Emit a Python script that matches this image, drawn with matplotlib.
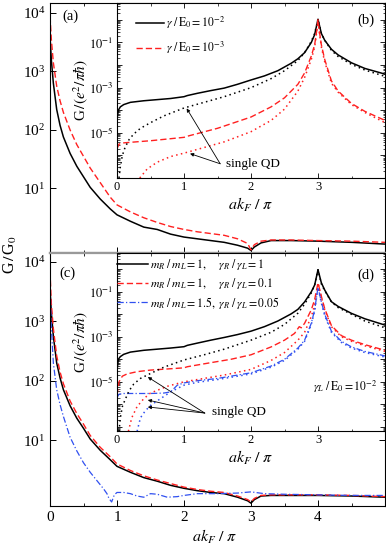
import numpy as np
import matplotlib
matplotlib.use("Agg")
import matplotlib.pyplot as plt
from matplotlib.ticker import FixedLocator, NullFormatter, LogLocator, MultipleLocator, LogFormatterSciNotation, NullLocator

plt.rcParams['font.family'] = ['Liberation Serif', 'DejaVu Serif']
plt.rcParams['mathtext.fontset'] = 'stix'

# ---------------- main panel (a) ----------------
a_x = [0, 0.02, 0.05, 0.1, 0.15, 0.2, 0.3, 0.4, 0.5, 0.6, 0.75, 0.9, 1.0, 1.2, 1.4, 1.6, 1.8, 2.0, 2.2, 2.4, 2.6, 2.8, 2.95, 3.0, 3.05, 3.15, 3.3, 3.6, 4.0, 4.5, 5.0]
a_black_log = [3.6, 3.2, 2.8, 2.35, 2.08, 1.88, 1.6, 1.38, 1.2, 1.02, 0.82, 0.65, 0.55, 0.44, 0.34, 0.3, 0.22, 0.17, 0.14, 0.11, 0.08, 0.03, -0.02, -0.06, 0.0, 0.07, 0.11, 0.11, 0.1, 0.08, 0.05]
a_red_log = [3.95, 3.55, 3.15, 2.75, 2.5, 2.3, 2.0, 1.75, 1.55, 1.35, 1.1, 0.85, 0.72, 0.6, 0.5, 0.42, 0.35, 0.3, 0.26, 0.23, 0.2, 0.14, 0.06, -0.05, 0.04, 0.1, 0.12, 0.12, 0.11, 0.1, 0.08]

# ---------------- main panel (c) ----------------
c_x = a_x
c_black_log = [3.55, 3.15, 2.75, 2.3, 2.05, 1.85, 1.58, 1.37, 1.2, 1.02, 0.83, 0.67, 0.56, 0.46, 0.37, 0.31, 0.24, 0.19, 0.15, 0.12, 0.1, 0.04, -0.02, -0.06, 0.0, 0.06, 0.07, 0.07, 0.07, 0.06, 0.04]
c_red_log = [3.85, 3.3, 2.88, 2.42, 2.15, 1.95, 1.66, 1.45, 1.27, 1.08, 0.88, 0.72, 0.6, 0.49, 0.4, 0.33, 0.27, 0.21, 0.17, 0.14, 0.12, 0.06, 0.0, -0.04, 0.02, 0.07, 0.08, 0.08, 0.08, 0.07, 0.05]
c_blue_x = [0, 0.02, 0.05, 0.1, 0.15, 0.2, 0.3, 0.4, 0.5, 0.6, 0.7, 0.8, 0.85, 0.88, 0.92, 0.96, 1.0, 1.1, 1.2, 1.3, 1.4, 1.5, 1.6, 1.75, 1.9, 2.0, 2.2, 2.5, 2.8, 3.0, 3.2, 3.5, 4.0, 4.5, 5.0]
c_blue_log = [3.6, 2.9, 2.3, 1.85, 1.6, 1.4, 1.05, 0.82, 0.62, 0.46, 0.32, 0.18, 0.1, 0.02, -0.04, 0.08, 0.12, 0.12, 0.1, 0.06, 0.04, 0.1, 0.09, 0.04, 0.05, 0.07, 0.1, 0.1, 0.11, 0.13, 0.1, 0.09, 0.08, 0.07, 0.07]

# ---------------- inset (b) ----------------
b_solid_x = [0, 0.02, 0.05, 0.1, 0.2, 0.4, 0.6, 0.8, 1.0, 1.05, 1.2, 1.4, 1.6, 1.8, 2.0, 2.2, 2.4, 2.6, 2.7, 2.8, 2.9, 2.95, 3.0, 3.05, 3.1, 3.2, 3.3, 3.5, 3.7, 4.0]
b_black_log = [-4.4, -4.0, -3.85, -3.75, -3.65, -3.58, -3.53, -3.48, -3.4, -3.35, -3.25, -3.13, -3.02, -2.85, -2.66, -2.48, -2.25, -1.92, -1.72, -1.45, -1.0, -0.65, 0.03, -0.6, -0.9, -1.3, -1.55, -1.9, -2.15, -2.4]
b_dot_x = [0.03, 0.05, 0.08, 0.12, 0.18, 0.25, 0.35, 0.5, 0.7, 1.0, 1.3, 1.6, 2.0, 2.3, 2.5, 2.7, 2.8, 2.9, 2.95, 3.0, 3.05, 3.1, 3.2, 3.3, 3.5, 3.7, 4.0]
b_black_dot_log = [-7.0, -6.5, -6.0, -5.65, -5.3, -5.05, -4.8, -4.55, -4.25, -3.9, -3.65, -3.4, -3.0, -2.6, -2.25, -1.8, -1.45, -0.95, -0.6, 0.03, -0.6, -0.9, -1.35, -1.62, -1.97, -2.22, -2.5]
b_red_x = [0, 0.03, 0.08, 0.2, 0.5, 1.0, 1.05, 1.5, 2.0, 2.3, 2.5, 2.7, 2.8, 2.9, 2.95, 2.98, 3.0, 3.02, 3.05, 3.1, 3.2, 3.3, 3.5, 3.7, 4.0]
b_red_log = [-5.7, -5.5, -5.45, -5.42, -5.35, -5.2, -5.15, -4.8, -4.3, -3.85, -3.45, -2.85, -2.35, -1.6, -1.1, -0.5, 0.03, -0.5, -1.1, -1.75, -2.7, -3.15, -3.7, -4.05, -4.45]
b_red_dot_x = [0.34, 0.45, 0.6, 0.8, 1.0, 1.3, 1.6, 2.0, 2.3, 2.5, 2.7, 2.8, 2.9, 2.95, 2.98, 3.0, 3.02, 3.05, 3.1, 3.2, 3.3, 3.5, 3.7, 4.0]
b_red_dot_log = [-7.0, -6.6, -6.3, -6.05, -5.9, -5.65, -5.4, -4.95, -4.45, -3.95, -3.15, -2.55, -1.75, -1.2, -0.55, 0.03, -0.55, -1.2, -1.85, -2.8, -3.2, -3.75, -4.1, -4.55]

# ---------------- inset (d) ----------------
d_solid_x = b_solid_x
d_black_log = [-4.5, -4.0, -3.88, -3.78, -3.68, -3.6, -3.55, -3.5, -3.44, -3.38, -3.28, -3.15, -3.03, -2.9, -2.75, -2.55, -2.3, -1.98, -1.78, -1.45, -1.0, -0.7, -0.02, -0.6, -0.92, -1.44, -1.65, -1.96, -2.2, -2.48]
d_dot_x = b_dot_x
d_black_dot_log = [-7.2, -6.6, -6.1, -5.8, -5.4, -5.1, -4.85, -4.63, -4.35, -4.03, -3.8, -3.55, -3.15, -2.8, -2.45, -1.95, -1.55, -1.05, -0.7, -0.02, -0.65, -0.95, -1.45, -1.7, -2.0, -2.3, -2.6]
d_red_x = [0, 0.03, 0.08, 0.15, 0.3, 0.5, 0.8, 1.0, 1.05, 1.4, 1.7, 2.0, 2.3, 2.5, 2.65, 2.72, 2.75, 2.8, 2.9, 2.95, 3.0, 3.05, 3.1, 3.2, 3.35, 3.5, 3.7, 4.0]
d_red_log = [-5.6, -5.0, -4.75, -4.65, -4.55, -4.48, -4.42, -4.38, -4.33, -4.15, -4.0, -3.8, -3.45, -3.15, -2.85, -2.55, -2.6, -2.4, -1.8, -1.35, -0.6, -1.2, -1.75, -2.5, -2.95, -3.15, -3.35, -3.6]
d_red_dot_x = [0.17, 0.22, 0.3, 0.4, 0.5, 0.75, 1.0, 1.3, 1.6, 2.0, 2.3, 2.5, 2.7, 2.8, 2.9, 2.95, 3.0, 3.05, 3.1, 3.2, 3.35, 3.5, 3.7, 4.0]
d_red_dot_log = [-7.2, -6.6, -6.1, -5.75, -5.5, -5.2, -5.0, -4.85, -4.7, -4.45, -4.05, -3.7, -3.15, -2.8, -2.1, -1.6, -0.6, -1.25, -1.8, -2.55, -3.0, -3.2, -3.4, -3.65]
d_blue_x = [0, 0.03, 0.1, 0.3, 0.5, 0.7, 0.8, 0.85, 0.9, 1.0, 1.2, 1.5, 1.8, 2.0, 2.3, 2.5, 2.7, 2.8, 2.9, 2.95, 3.0, 3.05, 3.1, 3.2, 3.35, 3.5, 3.7, 4.0]
d_blue_log = [-5.7, -5.55, -5.52, -5.52, -5.52, -5.5, -5.45, -5.3, -5.15, -5.05, -4.95, -4.85, -4.7, -4.6, -4.3, -4.0, -3.5, -3.15, -2.4, -1.8, -0.8, -1.45, -2.0, -2.75, -3.2, -3.45, -3.65, -3.85]
d_blue_dot_x = [0.3, 0.35, 0.42, 0.5, 0.6, 0.7, 0.8, 0.9, 1.0, 1.2, 1.5, 1.8, 2.0, 2.3, 2.5, 2.7, 2.8, 2.9, 2.95, 3.0, 3.05, 3.1, 3.2, 3.35, 3.5, 3.7, 4.0]
d_blue_dot_log = [-7.2, -6.6, -6.3, -6.05, -5.85, -5.65, -5.45, -5.3, -5.15, -5.02, -4.9, -4.75, -4.65, -4.35, -4.05, -3.55, -3.2, -2.45, -1.85, -0.8, -1.5, -2.05, -2.8, -3.25, -3.5, -3.7, -3.9]

main_xticks = [0, 1, 2, 3, 4]
inset_xticks = [0, 1, 2, 3]
main_yticks = [1e1, 1e2, 1e3, 1e4]
inset_labeled_exps = [-1, -3, -5]

leg_b = [r'$\gamma\ /\,\mathrm{E}_0 = 10^{-2}$', r'$\gamma\ /\,\mathrm{E}_0 = 10^{-3}$']
leg_d = [r'$m_R\ /\,m_L = 1,\quad\ \gamma_R\ /\,\gamma_L = 1$',
         r'$m_R\ /\,m_L = 1,\quad\ \gamma_R\ /\,\gamma_L = 0.1$',
         r'$m_R\ /\,m_L = 1.5,\ \gamma_R\ /\,\gamma_L = 0.05$']

BLACK = 'black'
RED = '#ff2020'
BLUE = '#3050f0'
DASH = (0, (4.5, 2.2))
DOT = (0, (1, 2.2))
DASHDOT = (0, (5, 1.8, 1, 1.8))

W, H = 386, 550
fig = plt.figure(figsize=(W / 100, H / 100), dpi=100)


def px(l, b, r, t):
    return [l / W, 1 - b / H, (r - l) / W, (b - t) / H]


axA = fig.add_axes(px(50, 253, 385, 3))
axC = fig.add_axes(px(50, 506, 385, 253))
axB = fig.add_axes(px(117, 178, 385, 3))
axD = fig.add_axes(px(117, 431, 385, 253))


def tolin(v):
    return 10 ** np.asarray(v, dtype=float)


# main (a)
axA.plot(a_x, tolin(a_black_log), color=BLACK, lw=1.1, ls='-')
axA.plot(a_x, tolin(a_red_log), color=RED, lw=1.0, ls=DASH)
# main (c)
axC.plot(c_x, tolin(c_black_log), color=BLACK, lw=1.1, ls='-')
axC.plot(c_x, tolin(c_red_log), color=RED, lw=1.0, ls=DASH)
axC.plot(c_blue_x, tolin(c_blue_log), color=BLUE, lw=0.9, ls=DASHDOT)

for ax, ylim in ((axA, (0.79, 1.48e4)), (axC, (0.78, 1.42e4))):
    ax.set_yscale('log')
    ax.set_xlim(0, 5)
    ax.set_ylim(*ylim)
    ax.yaxis.set_major_locator(FixedLocator(main_yticks))
    ax.yaxis.set_major_formatter(LogFormatterSciNotation())
    ax.yaxis.set_minor_locator(NullLocator())
    ax.xaxis.set_major_locator(FixedLocator(main_xticks))
    ax.xaxis.set_minor_locator(MultipleLocator(0.5))
    ax.tick_params(which='both', direction='in', top=True, right=True, labelsize=11)
    ax.tick_params(which='major', length=4, width=0.7)
    ax.tick_params(which='minor', length=2.5, width=0.6)
    for s in ax.spines.values():
        s.set_linewidth(0.8)
axA.tick_params(labelbottom=False)
axA.spines['bottom'].set_color('0.6')
axC.spines['top'].set_color('0.6')
axA.spines['bottom'].set_linewidth(1.6)
axC.spines['top'].set_linewidth(1.6)

# inset (b)
axB.plot(b_solid_x, tolin(b_black_log), color=BLACK, lw=1.1, ls='-', label=leg_b[0])
axB.plot(b_red_x, tolin(b_red_log), color=RED, lw=1.0, ls=DASH, label=leg_b[1])
axB.plot(b_dot_x, tolin(b_black_dot_log), color=BLACK, lw=1.1, ls=DOT)
axB.plot(b_red_dot_x, tolin(b_red_dot_log), color=RED, lw=1.1, ls=DOT)

# inset (d)
axD.plot(d_solid_x, tolin(d_black_log), color=BLACK, lw=1.1, ls='-', label=leg_d[0])
axD.plot(d_red_x, tolin(d_red_log), color=RED, lw=1.0, ls=DASH, label=leg_d[1])
axD.plot(d_blue_x, tolin(d_blue_log), color=BLUE, lw=0.9, ls=DASHDOT, label=leg_d[2])
axD.plot(d_dot_x, tolin(d_black_dot_log), color=BLACK, lw=1.1, ls=DOT)
axD.plot(d_red_dot_x, tolin(d_red_dot_log), color=RED, lw=1.1, ls=DOT)
axD.plot(d_blue_dot_x, tolin(d_blue_dot_log), color=BLUE, lw=1.1, ls=DOT)


def inset_fmt(v, p):
    e = int(round(np.log10(v)))
    return (r'$10^{%d}$' % e) if e in inset_labeled_exps else ''


for ax, ylim in ((axB, (1.0e-7, 5.6)), (axD, (6.5e-8, 5.3))):
    ax.set_yscale('log')
    ax.set_xlim(0, 4)
    ax.set_ylim(*ylim)
    ax.yaxis.set_major_locator(LogLocator(base=10, numticks=20))
    ax.yaxis.set_minor_locator(LogLocator(base=10, subs=np.arange(2, 10), numticks=20))
    ax.yaxis.set_minor_formatter(NullFormatter())
    ax.yaxis.set_major_formatter(matplotlib.ticker.FuncFormatter(inset_fmt))
    ax.xaxis.set_major_locator(FixedLocator(inset_xticks))
    ax.xaxis.set_minor_locator(MultipleLocator(0.5))
    ax.tick_params(which='both', direction='in', top=True, right=True, labelsize=9, pad=2.5)
    ax.tick_params(which='major', length=3.5, width=0.6)
    ax.tick_params(which='minor', length=1.8, width=0.5)
    ax.set_xlabel(r'$ak_F\ /\ \pi$', fontsize=11.5, labelpad=2)
    ax.set_ylabel(r'G$\,/\left(e^{2}/\pi\hbar\right)$', fontsize=11, labelpad=-1)
    for s in ax.spines.values():
        s.set_linewidth(0.8)

axB.legend(loc='upper left', bbox_to_anchor=(0.07, 0.935), frameon=False, fontsize=8.5,
           handlelength=2.4, handletextpad=0.2, labelspacing=0.75, borderpad=0, borderaxespad=0)
axD.legend(loc='upper left', bbox_to_anchor=(0.0, 0.975), frameon=False, fontsize=8.5,
           handlelength=2.6, handletextpad=0.2, labelspacing=0.3, borderpad=0, borderaxespad=0)

axD.text(0.85, 0.25, r'$\gamma_L\ /\,\mathrm{E}_0 = 10^{-2}$', transform=axD.transAxes,
         ha='center', va='center', fontsize=8.5)

arrow_kw = dict(arrowstyle='-|>', lw=0.6, color='black', mutation_scale=5, shrinkA=0, shrinkB=0)
# single QD annotations (b)
axB.text(1.63, 10 ** -6.37, 'single QD', fontsize=9.5, ha='left', va='center')
for tip in ((1.04, 10 ** -3.92), (1.09, 10 ** -5.92)):
    axB.annotate('', xy=tip, xytext=(1.54, 10 ** -6.37), arrowprops=arrow_kw)
# single QD annotations (d)
axD.text(1.42, 10 ** -6.35, 'single QD', fontsize=9.5, ha='left', va='center')
for tip in ((0.46, 10 ** -4.79), (0.46, 10 ** -5.81), (0.46, 10 ** -6.12)):
    axD.annotate('', xy=tip, xytext=(1.31, 10 ** -6.39), arrowprops=arrow_kw)

# panel labels
fig.text(70 / W, 1 - 16 / H, '(a)', fontsize=10.5, ha='center', va='center')
fig.text(366 / W, 1 - 20 / H, '(b)', fontsize=10.5, ha='center', va='center')
fig.text(67 / W, 1 - 273 / H, '(c)', fontsize=10.5, ha='center', va='center')
fig.text(366 / W, 1 - 275 / H, '(d)', fontsize=10.5, ha='center', va='center')

fig.text(10 / W, 1 - 255 / H, r'G$\,/\,$G$_0$', fontsize=11.5, rotation=90, ha='center', va='center')
fig.text(215 / W, 1 - 537 / H, r'$ak_F\ /\ \pi$', fontsize=11.5, ha='center', va='center')

fig.savefig('out.png', dpi=100)
